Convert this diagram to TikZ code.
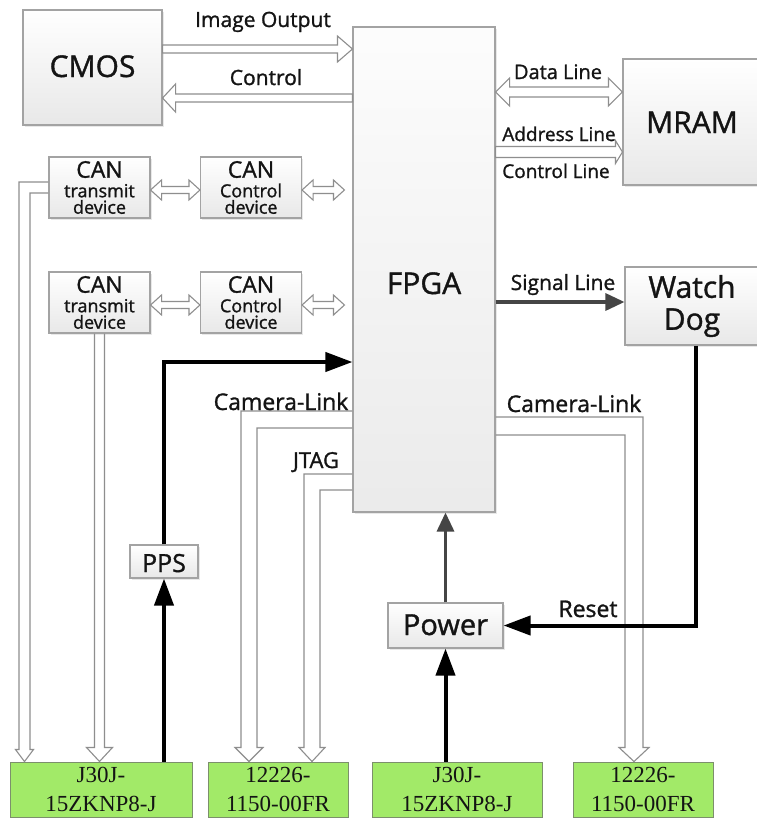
\documentclass[tikz,border=0pt]{standalone}
\usepackage{fontspec}
\setmainfont{Open Sans}[UprightFeatures={FakeBold=1.2}]
\newfontfamily\tnr{Liberation Serif}
\usetikzlibrary{arrows.meta,calc,shadows}
\definecolor{boxline}{HTML}{A3A3A3}
\definecolor{hline}{HTML}{8E8E8E}
\definecolor{grn}{HTML}{A2EA68}
\definecolor{grnline}{HTML}{7C8F6C}
\definecolor{darkarrow}{HTML}{454545}
\definecolor{txt}{HTML}{141414}
% hollow block arrows (shaft half width #3, head half width #4, head length #5)
\newcommand\harrowR[5]{\draw[hollow] let \p1=#1, \p2=#2 in
  (\x1,\y1+#3) -- (\x2-#5,\y1+#3) -- (\x2-#5,\y1+#4) -- (\x2,\y1) -- (\x2-#5,\y1-#4) -- (\x2-#5,\y1-#3) -- (\x1,\y1-#3) -- cycle;}
\newcommand\harrowL[5]{\draw[hollow] let \p1=#1, \p2=#2 in
  (\x1,\y1) -- (\x1+#5,\y1+#4) -- (\x1+#5,\y1+#3) -- (\x2,\y1+#3) -- (\x2,\y1-#3) -- (\x1+#5,\y1-#3) -- (\x1+#5,\y1-#4) -- cycle;}
\newcommand\harrowLR[6]{\draw[hollow] let \p1=#1, \p2=#2 in
  (\x1,\y1) -- (\x1+#5,\y1+#4) -- (\x1+#5,\y1+#3) -- (\x2-#6-#5,\y1+#3) -- (\x2-#6-#5,\y1+#4) -- (\x2-#6,\y1)
  -- (\x2-#6-#5,\y1-#4) -- (\x2-#6-#5,\y1-#3) -- (\x1+#5,\y1-#3) -- (\x1+#5,\y1-#4) -- cycle;}
\begin{document}
\begin{tikzpicture}[x=1pt,y=-1pt,
  box/.style={draw=boxline, line width=1.1pt, top color=white, bottom color=black!9, text=txt, inner sep=0pt, align=center,
    drop shadow={shadow xshift=1.5pt, shadow yshift=-1.5pt, opacity=0.18}},
  canbox/.style={box, minimum width=101pt, minimum height=61pt, font=\fontsize{18}{16.5}\selectfont},
  gbox/.style={draw=grnline, line width=1pt, fill=grn, text=txt, inner sep=0pt, align=center, font=\tnr\fontsize{23}{29}\selectfont},
  hollow/.style={draw=hline, line width=1.1pt, fill=white, line join=miter},
  hopen/.style={draw=hline, line width=1.1pt, line join=miter},
  lbl/.style={text=txt, inner sep=0pt, anchor=base},
  blk/.style={line width=4pt, black, -{Triangle[length=27pt,width=19pt]}},
  gry/.style={line width=3.2pt, darkarrow, -{Triangle[length=19pt,width=17pt]}},
]
\useasboundingbox (0,0) rectangle (756,819);
\fill[white] (0,0) rectangle (756,819);
% levels of horizontal connectors
\coordinate (imgY) at (0,49);
\coordinate (ctlY) at (0,98);
\coordinate (dataY) at (0,92);
\coordinate (addrY) at (0,152);
\coordinate (can1Y) at (0,190);
\coordinate (can2Y) at (0,305);
\coordinate (sigY) at (0,302);
\coordinate (ppsY) at (0,362);

% blocks
\node[box, minimum width=139pt, minimum height=115pt, font=\fontsize{30}{36}\selectfont, text height=19pt, text depth=0pt] (cmos) at (92.5,67.5) {CMOS};
\node[box, top color=black!1, bottom color=black!8, minimum width=142pt, minimum height=485pt, font=\fontsize{30}{36}\selectfont, text height=49pt, text depth=0pt] (fpga) at (424,269.5) {FPGA};
\node[box, minimum width=138pt, minimum height=126pt, font=\fontsize{30}{36}\selectfont, text height=22pt, text depth=0pt] (mram) at (692,122) {MRAM};
\node[box, minimum width=134pt, minimum height=78pt, font=\fontsize{30}{32}\selectfont] (wd) at (692,306) {Watch\\Dog};
\node[canbox] (tx1) at (99.5,187.5) {{\fontsize{23}{20}\selectfont CAN}\\[3pt]transmit\\device};
\node[canbox] (ctrl1) at (251,187.5) {{\fontsize{23}{20}\selectfont CAN}\\[3pt]Control\\device};
\node[canbox] (tx2) at (99.5,302.5) {{\fontsize{23}{20}\selectfont CAN}\\[3pt]transmit\\device};
\node[canbox] (ctrl2) at (251,302.5) {{\fontsize{23}{20}\selectfont CAN}\\[3pt]Control\\device};
\node[box, minimum width=68pt, minimum height=33pt, font=\fontsize{25}{30}\selectfont, text height=21pt, text depth=0pt] (pps) at (164,561.5) {PPS};
\node[box, minimum width=115pt, minimum height=45pt, font=\fontsize{29}{34}\selectfont, text height=19pt, text depth=0pt] (power) at (445.5,625.5) {Power};
\node[gbox, minimum width=182pt, minimum height=55pt] (g1) at (101,789.5) {J30J-\\15ZKNP8-J};
\node[gbox, minimum width=140pt, minimum height=55pt] (g2) at (278,789.5) {12226-\\1150-00FR};
\node[gbox, minimum width=170pt, minimum height=55pt] (g3) at (457,789.5) {J30J-\\15ZKNP8-J};
\node[gbox, minimum width=140pt, minimum height=55pt] (g4) at (643,789.5) {12226-\\1150-00FR};

% hollow connectors
\harrowR{(cmos.east |- imgY)}{(fpga.west |- imgY)}{4pt}{13pt}{15pt}
\harrowL{(cmos.east |- ctlY)}{(fpga.west |- ctlY)}{4pt}{14pt}{13pt}
\harrowLR{(fpga.east |- dataY)}{(mram.west |- dataY)}{5pt}{14pt}{14pt}{0pt}
\harrowR{(fpga.east |- addrY)}{(mram.west |- addrY)}{5.5pt}{11.5pt}{7pt}
\harrowLR{(tx1.east |- can1Y)}{(ctrl1.west |- can1Y)}{3.5pt}{10pt}{11pt}{0pt}
\harrowLR{(ctrl1.east |- can1Y)}{(fpga.west |- can1Y)}{3.5pt}{10pt}{11pt}{8pt}
\harrowLR{(tx2.east |- can2Y)}{(ctrl2.west |- can2Y)}{3.5pt}{10pt}{11pt}{0pt}
\harrowLR{(ctrl2.east |- can2Y)}{(fpga.west |- can2Y)}{3.5pt}{10pt}{11pt}{8pt}

\draw[hopen] let \p1=(tx1.west), \p2=(g1.north) in
  (\x1,\y1+5.5pt) -- (19pt,\y1+5.5pt) -- (19pt,\y2+12pt) -- (15.5pt,\y2+12pt) -- (24.5pt,\y2)
  -- (33.5pt,\y2+12pt) -- (30pt,\y2+12pt) -- (30pt,\y1-5.5pt) -- (\x1,\y1-5.5pt);
\draw[hopen] let \p1=(tx2.south), \p2=(g1.north) in
  (\x1-5pt,\y1) -- (\x1-5pt,\y2+14pt) -- (\x1-13pt,\y2+14pt) -- (\x1,\y2)
  -- (\x1+13pt,\y2+14pt) -- (\x1+5pt,\y2+14pt) -- (\x1+5pt,\y1);
\draw[hopen] let \p1=(fpga.west), \p2=(g2.north) in
  (\x1,\y1-141.5pt) -- (241pt,\y1-141.5pt) -- (241pt,\y2+14pt) -- (235pt,\y2+14pt) -- (249pt,\y2)
  -- (263pt,\y2+14pt) -- (257pt,\y2+14pt) -- (257pt,\y1-158.5pt) -- (\x1,\y1-158.5pt);
\draw[hopen] let \p1=(fpga.west), \p2=(g2.north) in
  (\x1,\y1-204.5pt) -- (304pt,\y1-204.5pt) -- (304pt,\y2+14pt) -- (299pt,\y2+14pt) -- (312pt,\y2)
  -- (325pt,\y2+14pt) -- (320pt,\y2+14pt) -- (320pt,\y1-220.5pt) -- (\x1,\y1-220.5pt);
\draw[hopen] let \p1=(fpga.east), \p2=(g4.north) in
  (\x1,\y1-147.5pt) -- (643pt,\y1-147.5pt) -- (643pt,\y2+14pt) -- (649pt,\y2+14pt) -- (634pt,\y2)
  -- (619pt,\y2+14pt) -- (625pt,\y2+14pt) -- (625pt,\y1-165.5pt) -- (\x1,\y1-165.5pt);

% solid connectors
\draw[blk] (pps.south |- g1.north) -- (pps.south);
\draw[blk] (pps.north) |- (fpga.west |- ppsY);
\draw[blk] (power.south |- g3.north) -- (power.south);
\draw[gry] (power.north) -- (power.north |- fpga.south);
\draw[gry] (fpga.east |- sigY) -- (wd.west |- sigY);
\draw[blk] ([xshift=4pt]wd.south) |- (power.east);

% labels
\node[lbl, font=\fontsize{21}{21}\selectfont] at (263,27) {Image Output};
\node[lbl, font=\fontsize{21}{21}\selectfont] at (266,85) {Control};
\node[lbl, font=\fontsize{20}{20}\selectfont] at (558,79) {Data Line};
\node[lbl, font=\fontsize{19}{19}\selectfont] at (559,141) {Address Line};
\node[lbl, font=\fontsize{19}{19}\selectfont] at (556,178) {Control Line};
\node[lbl, font=\fontsize{21}{21}\selectfont] at (563,290) {Signal Line};
\node[lbl, font=\fontsize{23}{23}\selectfont] at (281,410) {Camera-Link};
\node[lbl, font=\fontsize{22}{22}\selectfont] at (316,468) {JTAG};
\node[lbl, font=\fontsize{23}{23}\selectfont] at (574,412) {Camera-Link};
\node[lbl, font=\fontsize{23}{23}\selectfont] at (588,617) {Reset};
\end{tikzpicture}
\end{document}
